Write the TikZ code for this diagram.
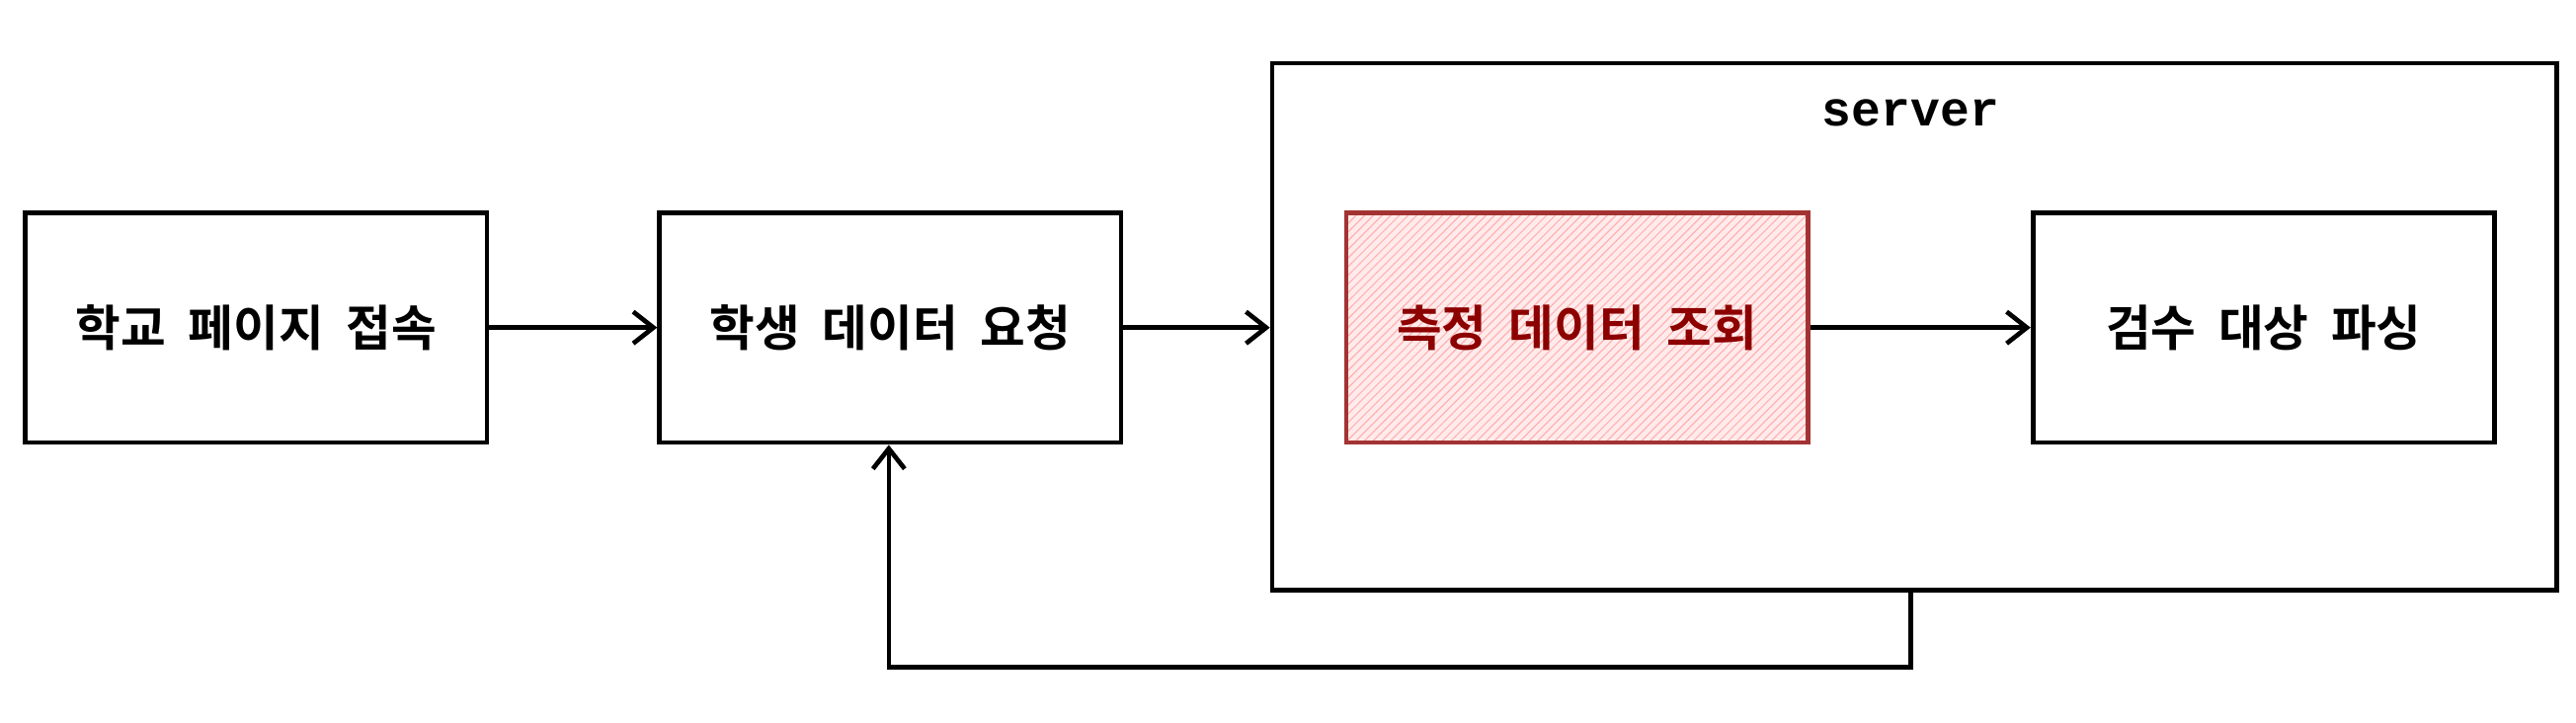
\documentclass[tikz,border=0pt]{standalone}
\usepackage{fontspec}
\newfontfamily\kr{Noto Sans CJK KR}[BoldFont={Noto Sans CJK KR Bold}]
\setmonofont{Liberation Mono}
\usetikzlibrary{patterns,arrows.meta}
\begin{document}
\begin{tikzpicture}[x=0.02cm,y=-0.02cm,
  box/.style={draw=black,line width=1.6pt,minimum width=281*0.02cm,minimum height=140*0.02cm,font=\kr\bfseries\fontsize{17}{20}\selectfont,anchor=north west,inner sep=0},
  arr/.style={line width=1.6pt,-{Straight Barb[length=7pt,width=11pt]}}]
\useasboundingbox (0,0) rectangle (1568,440);
\node[box] (a) at (14,128) {학교\ \ 페이지\ \ 접속};
\node[box] (b) at (400,128) {학생\ \ 데이터\ \ 요청};
\node[draw=black,line width=1.6pt,minimum width=782*0.02cm,minimum height=321*0.02cm,anchor=north west,inner sep=0] (s) at (773,37) {};
\node[font=\ttfamily\bfseries\fontsize{17}{20}\selectfont] (sl) at (1163,69) {server};
\fill[red!8] (818,128) rectangle (1099,268);
\node[box,draw=red!55!black!80,pattern=north east lines,pattern color=red!30,text=red!55!black] (c) at (818,128) {측정\ \ 데이터\ \ 조회};
\node[box] (d) at (1236,128) {검수\ \ 대상\ \ 파싱};
\draw[arr] (a.east) -- (b.west);
\draw[arr] (b.east) -- (s.west |- b.east);
\draw[arr] (c.east) -- (d.west);
\coordinate (s1) at (1163,358);
\draw[arr] (s1) -- (1163,406) -- (541,406) -- (b.south -| 541,0);
\end{tikzpicture}
\end{document}
